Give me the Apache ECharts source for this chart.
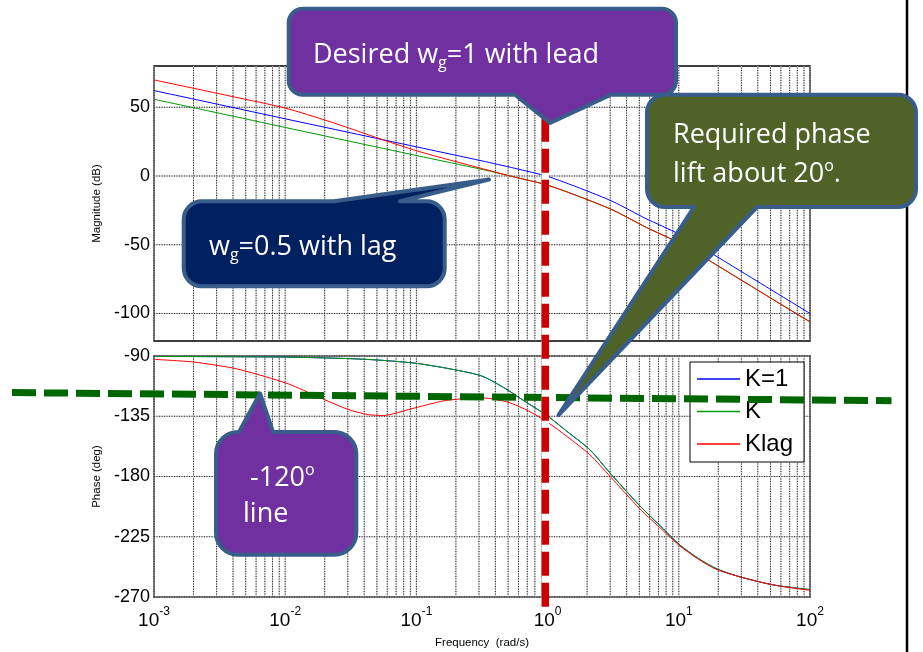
<!DOCTYPE html>
<html>
<head>
<meta charset="utf-8">
<script src="https://cdn.jsdelivr.net/npm/echarts@6/dist/echarts.min.js"></script>
<style>html,body{margin:0;padding:0;background:#fff}#c{width:923px;height:652px}</style>
</head>
<body>
<div id="c"></div>
<script>
// ---------------- data ----------------
const seriesNames = ['K=1', 'K', 'Klag'];

// Magnitude (dB)
const magFreq = [0.001, 0.00316, 0.01, 0.0316, 0.1, 0.316, 0.562, 1, 1.78, 3.16, 5.62, 10, 17.8, 31.6, 56.2, 100];
const magK1   = [62.1, 51.9, 41.6, 31.4, 21.2, 11.0, 5.6, -0.3, -9.0, -18.7, -31.0, -42.2, -56.3, -70.8, -85.4, -100.0];
const magK    = [55.8, 45.6, 35.3, 25.1, 14.9, 4.8, -0.8, -6.6, -15.2, -24.8, -37.2, -48.5, -62.5, -77.0, -91.6, -106.0];
const magLagFreq = [0.001, 0.002, 0.004, 0.01, 0.022, 0.031, 0.056, 0.1, 0.18, 0.32, 0.562, 1, 1.78, 3.16, 5.62, 10, 17.8, 31.6, 56.2, 100];
const magKlag    = [69.9, 63.8, 57.7, 49.4, 39.5, 34.7, 26.2, 18.4, 11.6, 5.3, -0.8, -6.7, -15.3, -24.9, -37.3, -48.6, -62.6, -77.1, -91.7, -106.1];

// Phase (deg)
const phaseFreq = [0.001, 0.00316, 0.01, 0.0316, 0.056, 0.1, 0.178, 0.316, 0.5, 0.562, 0.7, 1, 1.4, 2.1, 3.0, 5.0, 7.6, 10, 14.1, 19.5, 29.4, 52.7, 100];
const phaseK1   = [-90.3, -90.5, -90.8, -92.0, -93.3, -95.5, -99.5, -105.0, -115.5, -119.0, -125.0, -134.8, -146.2, -160.0, -177.5, -201.5, -219.0, -230.5, -241.2, -249.0, -255.0, -261.0, -264.5];
const phaseK    = [-90.3, -90.5, -90.8, -92.0, -93.3, -95.5, -99.5, -105.0, -115.5, -119.0, -125.0, -134.8, -146.2, -160.0, -177.5, -201.5, -219.0, -230.5, -241.2, -249.0, -255.0, -261.0, -264.5];
const phaseLagFreq = [0.001, 0.002, 0.004, 0.0058, 0.0107, 0.0178, 0.030, 0.0427, 0.056, 0.091, 0.162, 0.25, 0.32, 0.5, 0.72, 1, 1.4, 2.1, 3.0, 5.0, 7.6, 10, 14.1, 19.5, 29.4, 52.7, 100];
const phaseKlag    = [-92.5, -94.5, -99.0, -103.0, -111.0, -120.5, -129.8, -133.8, -134.4, -129.5, -123.5, -121.6, -121.3, -124.5, -131.2, -139.5, -150.0, -163.7, -180.0, -203.7, -220.5, -231.2, -241.8, -249.5, -255.0, -261.0, -265.0];

// Axis ticks
const freqDecades = [0.001, 0.01, 0.1, 1, 10, 100];
const gridMultipliers = [1, 2, 3, 4, 5, 6, 7, 8, 9];
const magTicks = [-100, -50, 0, 50];
const phaseTicks = [-270, -225, -180, -135, -90];
const magRange = [-120, 80];
const phaseRange = [-270, -90];

// ---------------- chart ----------------
const AX_FONT = 'Liberation Sans';
const CALL_FONT = 'Open Sans';
const COLORS = ['#0000ff', '#009a00', '#ff0000'];

const pairs = (fs, vs) => fs.map((f, i) => [f, vs[i]]);
const gridFreqs = [];
freqDecades.slice(0, -1).forEach(d => gridMultipliers.forEach(m => gridFreqs.push(+(d * m).toPrecision(3))));
gridFreqs.push(freqDecades[freqDecades.length - 1]);

function gridLine(p1, p2) {
  const shape = { x1: p1[0], y1: p1[1], x2: p2[0], y2: p2[1] };
  return { type: 'group', children: [
    { type: 'line', shape: shape, style: { stroke: '#c4c4c4', lineWidth: 1 } },
    { type: 'line', shape: shape, style: { stroke: '#222', lineWidth: 1, lineDash: [1, 1.5] } }
  ] };
}
function vGrid(idx, yr) {
  return {
    type: 'custom', xAxisIndex: idx, yAxisIndex: idx, silent: true, z: 1,
    data: gridFreqs.map(f => [f, yr[0]]),
    renderItem: function (params, api) {
      const f = api.value(0);
      return gridLine(api.coord([f, yr[0]]), api.coord([f, yr[1]]));
    }
  };
}
function hGrid(idx, ticks) {
  const x0 = freqDecades[0], x1 = freqDecades[freqDecades.length - 1];
  return {
    type: 'custom', xAxisIndex: idx, yAxisIndex: idx, silent: true, z: 1,
    data: ticks.map(v => [x0, v]),
    renderItem: function (params, api) {
      const v = api.value(1);
      return gridLine(api.coord([x0, v]), api.coord([x1, v]));
    }
  };
}
function curve(name, idx, data, color) {
  return { type: 'line', name: name, xAxisIndex: idx, yAxisIndex: idx, data: data,
    showSymbol: false, symbol: 'none', smooth: 0.25, z: 3,
    lineStyle: { width: 1, color: color }, itemStyle: { color: color } };
}

// Callout shapes (annotation graphics, pixel positioned)
function calloutPath(x1, y1, x2, y2, r, side, b1, b2, tx, ty) {
  let p = 'M' + (x1 + r) + ',' + y1 + ' ';
  if (side === 'top') p += 'L' + b1 + ',' + y1 + ' L' + tx + ',' + ty + ' L' + b2 + ',' + y1 + ' ';
  p += 'L' + (x2 - r) + ',' + y1 + ' A' + r + ',' + r + ' 0 0 1 ' + x2 + ',' + (y1 + r) + ' ';
  p += 'L' + x2 + ',' + (y2 - r) + ' A' + r + ',' + r + ' 0 0 1 ' + (x2 - r) + ',' + y2 + ' ';
  if (side === 'bottom') p += 'L' + b2 + ',' + y2 + ' L' + tx + ',' + ty + ' L' + b1 + ',' + y2 + ' ';
  p += 'L' + (x1 + r) + ',' + y2 + ' A' + r + ',' + r + ' 0 0 1 ' + x1 + ',' + (y2 - r) + ' ';
  p += 'L' + x1 + ',' + (y1 + r) + ' A' + r + ',' + r + ' 0 0 1 ' + (x1 + r) + ',' + y1 + ' Z';
  return p;
}
const BORDER = '#385D8A';
const callouts = [
  { fill: '#7030A0', d: calloutPath(288.7, 8.7, 676, 94.7, 14, 'bottom', 515, 611, 550, 123) },
  { fill: '#4F6228', d: calloutPath(647, 94.7, 916, 207, 18, 'bottom', 694, 757, 558.5, 415) },
  { fill: '#002060', d: calloutPath(183.7, 201.3, 444.7, 286.3, 18, 'top', 334, 400, 489, 179.5) },
  { fill: '#7030A0', d: calloutPath(216, 432, 356.3, 554.7, 22, 'top', 239, 273, 260, 393.5) }
];
const richTok = {
  sub: { fontSize: 16, fontFamily: CALL_FONT, lineHeight: 16, verticalAlign: 'bottom' },
  sup: { fontSize: 16, fontFamily: CALL_FONT, lineHeight: 16, verticalAlign: 'top' }
};
const callTexts = [
  { x: 313, y: 55, t: 'Desired w{sub|g}=1 with lead' },
  { x: 673, y: 135, t: 'Required phase' },
  { x: 673, y: 174, t: 'lift about 20{sup|o}.' },
  { x: 209, y: 247.5, t: 'w{sub|g}=0.5 with lag' },
  { x: 250, y: 478, t: '-120{sup|o}' },
  { x: 243, y: 514, t: 'line' }
];

const annotations = {
  type: 'custom', xAxisIndex: 0, yAxisIndex: 0, silent: true, z: 30,
  data: [[1, 0]],
  renderItem: function () {
    const children = [];
    // green -120 deg dashed line
    children.push({ type: 'line', shape: { x1: 12, y1: 392.6, x2: 891.5, y2: 400.7 },
      style: { stroke: '#006600', lineWidth: 7, lineDash: [24, 8] } });
    // red vertical dashed line at w = 1
    children.push({ type: 'line', shape: { x1: 545.3, y1: 606.7, x2: 545.3, y2: 100 },
      style: { stroke: '#ffffff', lineWidth: 7.5 } });
    children.push({ type: 'line', shape: { x1: 545.3, y1: 606.7, x2: 545.3, y2: 100 },
      style: { stroke: '#cc0000', lineWidth: 7.5, lineDash: [24, 7] } });
    // right frame line
    children.push({ type: 'line', shape: { x1: 907, y1: 0, x2: 907, y2: 652 },
      style: { stroke: '#000', lineWidth: 2.5 } });
    callouts.forEach(c => children.push({ type: 'path', shape: { pathData: c.d },
      style: { fill: c.fill, stroke: BORDER, lineWidth: 4, lineJoin: 'round' } }));
    callTexts.forEach(t => children.push({ type: 'text',
      style: { text: t.t, x: t.x, y: t.y, fill: '#ffffff', fontSize: 27, fontFamily: CALL_FONT,
        lineHeight: 32, align: 'left', verticalAlign: 'middle', rich: richTok } }));
    return { type: 'group', children: children };
  }
};

const xCommon = {
  type: 'log', logBase: 10, min: freqDecades[0], max: freqDecades[freqDecades.length - 1],
  axisLine: { show: false }, axisTick: { show: false }, splitLine: { show: false },
  minorTick: { show: false }, minorSplitLine: { show: false }
};
const yCommon = {
  type: 'value', axisLine: { show: false }, axisTick: { show: false }, splitLine: { show: false },
  nameLocation: 'middle', nameGap: 46,
  nameTextStyle: { fontSize: 11.5, fontFamily: AX_FONT, color: '#000' }
};

const option = {
  animation: false,
  backgroundColor: '#ffffff',
  grid: [
    { left: 154, top: 66, width: 656, height: 275, show: true, borderColor: '#000', borderWidth: 1.5, backgroundColor: 'transparent' },
    { left: 154, top: 356, width: 656, height: 241, show: true, borderColor: '#000', borderWidth: 1.5, backgroundColor: 'transparent' }
  ],
  xAxis: [
    Object.assign({}, xCommon, { gridIndex: 0, axisLabel: { show: false } }),
    Object.assign({}, xCommon, {
      gridIndex: 1,
      name: 'Frequency  (rad/s)', nameLocation: 'middle', nameGap: 40,
      nameTextStyle: { fontSize: 11.5, fontFamily: AX_FONT, color: '#000' },
      axisLabel: {
        show: true, margin: 9, showMinLabel: true, showMaxLabel: true, color: '#000',
        formatter: function (v) { return '{b|10}{s|' + Math.round(Math.log10(v)) + '}'; },
        rich: {
          b: { fontSize: 19, fontFamily: AX_FONT, color: '#000', lineHeight: 24, verticalAlign: 'bottom' },
          s: { fontSize: 12, fontFamily: AX_FONT, color: '#000', lineHeight: 12, verticalAlign: 'top' }
        }
      }
    })
  ],
  yAxis: [
    Object.assign({}, yCommon, {
      gridIndex: 0, min: magRange[0], max: magRange[1], interval: 10, name: 'Magnitude (dB)',
      axisLabel: { fontSize: 18, fontFamily: AX_FONT, color: '#000', margin: 4,
        formatter: function (v) { return magTicks.indexOf(Math.round(v)) >= 0 && Math.abs(v - Math.round(v)) < 1e-6 ? String(Math.round(v)) : ''; } }
    }),
    Object.assign({}, yCommon, {
      gridIndex: 1, min: phaseRange[0], max: phaseRange[1], interval: 45, name: 'Phase (deg)',
      axisLabel: { fontSize: 18, fontFamily: AX_FONT, color: '#000', margin: 4 }
    })
  ],
  legend: {
    data: seriesNames, orient: 'vertical', left: 690, top: 362,
    padding: [5, 11, 6, 7], itemGap: 8.5, itemWidth: 43, itemHeight: 1.5, icon: 'rect',
    backgroundColor: '#fff', borderColor: '#000', borderWidth: 1, borderRadius: 0,
    textStyle: { fontSize: 24, fontFamily: AX_FONT, color: '#000', lineHeight: 24 },
    selectedMode: false
  },
  series: [
    vGrid(0, magRange), hGrid(0, magTicks),
    vGrid(1, phaseRange), hGrid(1, phaseTicks),
    curve(seriesNames[0], 0, pairs(magFreq, magK1), COLORS[0]),
    curve(seriesNames[1], 0, pairs(magFreq, magK), COLORS[1]),
    curve(seriesNames[2], 0, pairs(magLagFreq, magKlag), COLORS[2]),
    curve(seriesNames[0], 1, pairs(phaseFreq, phaseK1), COLORS[0]),
    curve(seriesNames[1], 1, pairs(phaseFreq, phaseK), COLORS[1]),
    curve(seriesNames[2], 1, pairs(phaseLagFreq, phaseKlag), COLORS[2]),
    annotations
  ]
};

const chart = echarts.init(document.getElementById('c'));
chart.setOption(option);
</script>
</body>
</html>
